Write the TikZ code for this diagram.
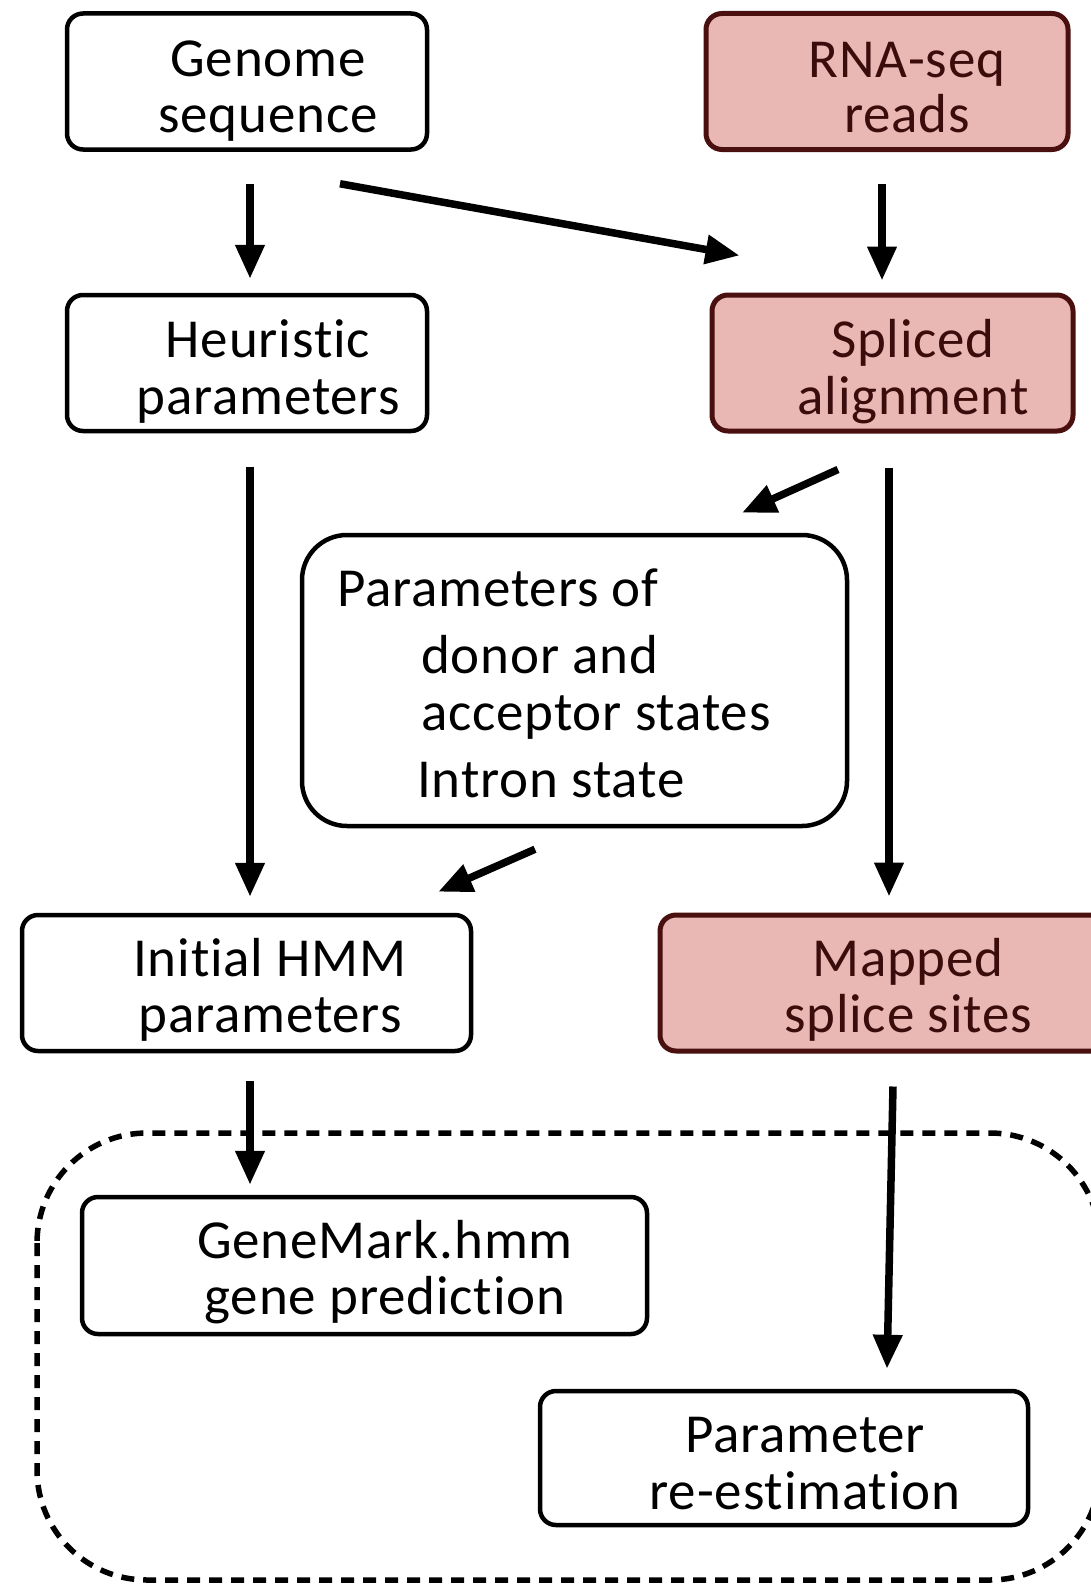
\documentclass[tikz,border=0pt]{standalone}
\usepackage{fontspec}
\setmainfont{Carlito}[Ligatures=CommonOff, LetterSpace=1.5]
\usetikzlibrary{arrows.meta}
\definecolor{pinkfill}{HTML}{E9B8B4}
\definecolor{pinkedge}{HTML}{4A1010}
\definecolor{pinktext}{HTML}{3A0C0C}
\begin{document}
\begin{tikzpicture}[x=1pt,y=-1pt,
  box/.style={draw=black, line width=4.5pt, rounded corners=16pt, fill=white,
    inner sep=0pt, minimum height=136pt},
  pinkbox/.style={box, draw=pinkedge, fill=pinkfill, line width=5pt},
  txt/.style={anchor=base, inner sep=0pt, font=\fontsize{55}{58}\selectfont},
  ltxt/.style={txt, anchor=base west},
  pinktxt/.style={txt, text=pinktext},
  arr/.style={line width=7.5pt, -{Triangle[length=34pt,width=28pt]}},
  loopbox/.style={draw=black, line width=5.5pt, dash pattern=on 13pt off 9pt, rounded corners=110pt},
]
\clip (0,0) rectangle (1091,1584);
\fill[white] (0,0) rectangle (1091,1584);

% iteration loop
\draw[loopbox] (37,1133) rectangle (1100,1580);

% boxes
\node[box, minimum width=360pt] (genome) at (247,81.5) {};
\node[pinkbox, minimum width=362pt] (rna) at (887,81.5) {};
\node[box, minimum width=360pt] (heur) at (247,363) {};
\node[pinkbox, minimum width=361pt] (splice) at (892.5,363) {};
\node[box, minimum width=545pt, minimum height=291pt, rounded corners=45pt] (params) at (574.5,680.5) {};
\node[box, minimum width=449pt] (initial) at (246.5,983) {};
\node[pinkbox, minimum width=460pt] (mapped) at (890,983) {};
\node[box, minimum width=565pt, minimum height=137pt] (genemark) at (364.5,1265.5) {};
\node[box, minimum width=488pt, minimum height=134pt] (reest) at (784,1458) {};

% labels
\node[txt] (genomeA) at (268,77) {Genome};
\node[txt] (genomeB) at (268,132) {sequence};
\node[pinktxt] (rnaA) at (907,78) {RNA-seq};
\node[pinktxt] (rnaB) at (907,132) {reads};
\node[txt] (heurA) at (268,357) {Heuristic};
\node[txt] (heurB) at (268,414) {parameters};
\node[pinktxt] (spliceA) at (913,357) {Spliced};
\node[pinktxt] (spliceB) at (913,414) {alignment};
\node[ltxt] (paramsA) at (337,606) {Parameters of};
\node[ltxt] (paramsB) at (421,673) {donor and};
\node[ltxt] (paramsC) at (421,730) {acceptor states};
\node[ltxt] (paramsD) at (417,797) {Intron state};
\node[txt] (initialA) at (270,976) {Initial HMM};
\node[txt] (initialB) at (270,1032) {parameters};
\node[pinktxt] (mappedA) at (908,976) {Mapped};
\node[pinktxt] (mappedB) at (908,1032) {splice sites};
\node[txt] (genemarkA) at (385,1258) {GeneMark.hmm};
\node[txt] (genemarkB) at (385,1314) {gene prediction};
\node[txt] (reestA) at (805,1452) {Parameter};
\node[txt] (reestB) at (805,1509) {re-estimation};

% connectors
\draw[arr] ([xshift=3pt,yshift=-32pt]genome.south) -- ([xshift=3pt,yshift=14pt]heur.north);
\draw[arr] ([xshift=93pt,yshift=-32pt]genome.south) -- ([xshift=30pt,yshift=37pt]splice.north west);
\draw[arr] ([xshift=-5pt,yshift=-32pt]rna.south) -- ([xshift=-10.5pt,yshift=12pt]splice.north);
\draw[arr] ([xshift=3pt,yshift=-34pt]heur.south) -- ([xshift=3.5pt,yshift=16pt]initial.north);
\draw[arr] ([xshift=-54.5pt,yshift=-36pt]splice.south) -- ([xshift=167.5pt,yshift=20pt]params.north);
\draw[arr] ([xshift=-3.5pt,yshift=-34pt]splice.south) -- ([xshift=-1pt,yshift=16pt]mapped.north);
\draw[arr] ([xshift=-39.5pt,yshift=-21pt]params.south) -- ([xshift=-35pt,yshift=21pt]initial.north east);
\draw[arr] ([xshift=3.5pt,yshift=-28pt]initial.south) -- ([xshift=-114.5pt,yshift=10pt]genemark.north);
\draw[arr] ([xshift=3pt,yshift=-33pt]mapped.south) -- ([xshift=103pt,yshift=20pt]reest.north);
\end{tikzpicture}
\end{document}
